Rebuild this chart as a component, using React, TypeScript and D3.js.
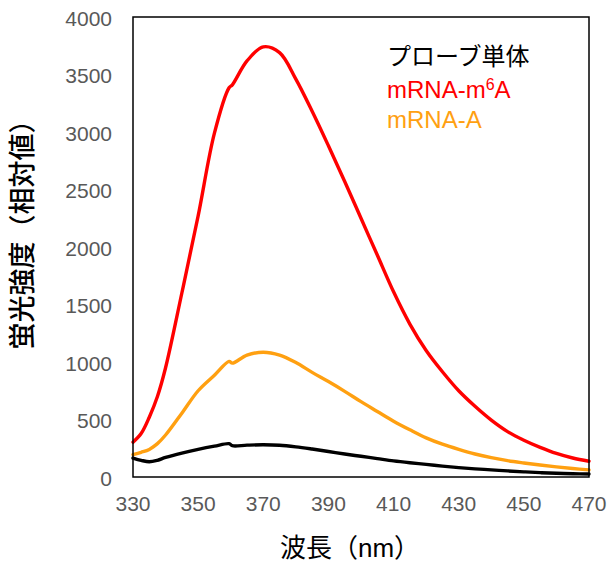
import React from "react";
import * as d3 from "d3";

// wavelength (nm)
const wavelengths = [
  330, 332.5, 335, 337.5, 340, 345, 350, 355, 359.5, 360.5, 365, 370, 375, 380, 385, 390, 395, 400,
  405, 410, 415, 420, 425, 430, 435, 440, 445, 450, 455, 460, 465, 470,
];
// プローブ単体
const probeOnly = [
  165, 145, 132, 145, 170, 208, 240, 268, 290, 272, 277, 280, 276, 262, 243, 222, 200, 180,
  160, 140, 124, 110, 95, 82, 71, 62, 53, 45, 38, 32, 28, 26,
];
// mRNA-m6A
const mrnaM6A = [
  303, 378, 520, 700, 950, 1600, 2270, 2990, 3385, 3410, 3618, 3740, 3690, 3460, 3180, 2880, 2570, 2250,
  1930, 1610, 1330, 1100, 915, 750, 615, 495, 395, 320, 258, 205, 165, 137,
];
// mRNA-A
const mrnaA = [
  195, 215, 240, 290, 365, 555, 750, 885, 1005, 990, 1060, 1085, 1060, 995, 910, 830, 745, 655,
  570, 485, 410, 340, 285, 240, 200, 168, 142, 122, 104, 88, 74, 62,
];

const xTicks = [330, 350, 370, 390, 410, 430, 450, 470];
const yTicks = [0, 500, 1000, 1500, 2000, 2500, 3000, 3500, 4000];

const seriesList = [
  { name: "プローブ単体", values: probeOnly, color: "#000000" },
  { name: "mRNA-m6A", values: mrnaM6A, color: "#ff0000" },
  { name: "mRNA-A", values: mrnaA, color: "#ffa011" },
];

const W = 609;
const H = 564;
const margin = { top: 17, right: 20, bottom: 87, left: 133 };
const font = "'Liberation Sans', Arial, 'Noto Sans CJK JP', sans-serif";

export default function App() {
  React.useEffect(() => {
    document.body.style.margin = "0";
  }, []);

  const x = d3.scaleLinear().domain([330, 470]).range([margin.left, W - margin.right]);
  const y = d3.scaleLinear().domain([0, 4000]).range([H - margin.bottom, margin.top]);

  const line = d3
    .line<number>()
    .x((d, i) => x(wavelengths[i]))
    .y((d) => y(d))
    .curve(d3.curveCatmullRom.alpha(0.5));

  return (
    <svg width={W} height={H} style={{ display: "block", background: "#fff" }} fontFamily={font}>
      {seriesList.map((s) => (
        <path key={s.name} d={line(s.values) || ""} fill="none" stroke={s.color}
          strokeWidth={3.4} strokeLinejoin="round" strokeLinecap="round" />
      ))}
      <rect x={margin.left} y={margin.top} width={W - margin.right - margin.left}
        height={H - margin.bottom - margin.top} fill="none" stroke="#000" strokeWidth={1.5} />

      {yTicks.map((t) => (
        <text key={t} x={112} y={y(t) + 1} textAnchor="end" dominantBaseline="central"
          fontSize={21} fill="#595959">{t}</text>
      ))}
      {xTicks.map((t) => (
        <text key={t} x={x(t)} y={511} textAnchor="middle" fontSize={21} fill="#595959">{t}</text>
      ))}

      <text x={350} y={557} textAnchor="middle" fontSize={26} fill="#000">波長（nm）</text>
      <text transform={`translate(23,228) rotate(-90)`} textAnchor="middle" dominantBaseline="central"
        fontSize={27} fontWeight={500} fill="#000">蛍光強度（相対値）</text>

      <g fontSize={24}>
        <text x={387} y={65} fill="#000">プローブ単体</text>
        <text x={387} y={98} fill="#ff0000">
          mRNA-m<tspan dy={-8} fontSize={16}>6</tspan><tspan dy={8}>A</tspan>
        </text>
        <text x={387} y={128} fill="#ffa011">mRNA-A</text>
      </g>
    </svg>
  );
}
